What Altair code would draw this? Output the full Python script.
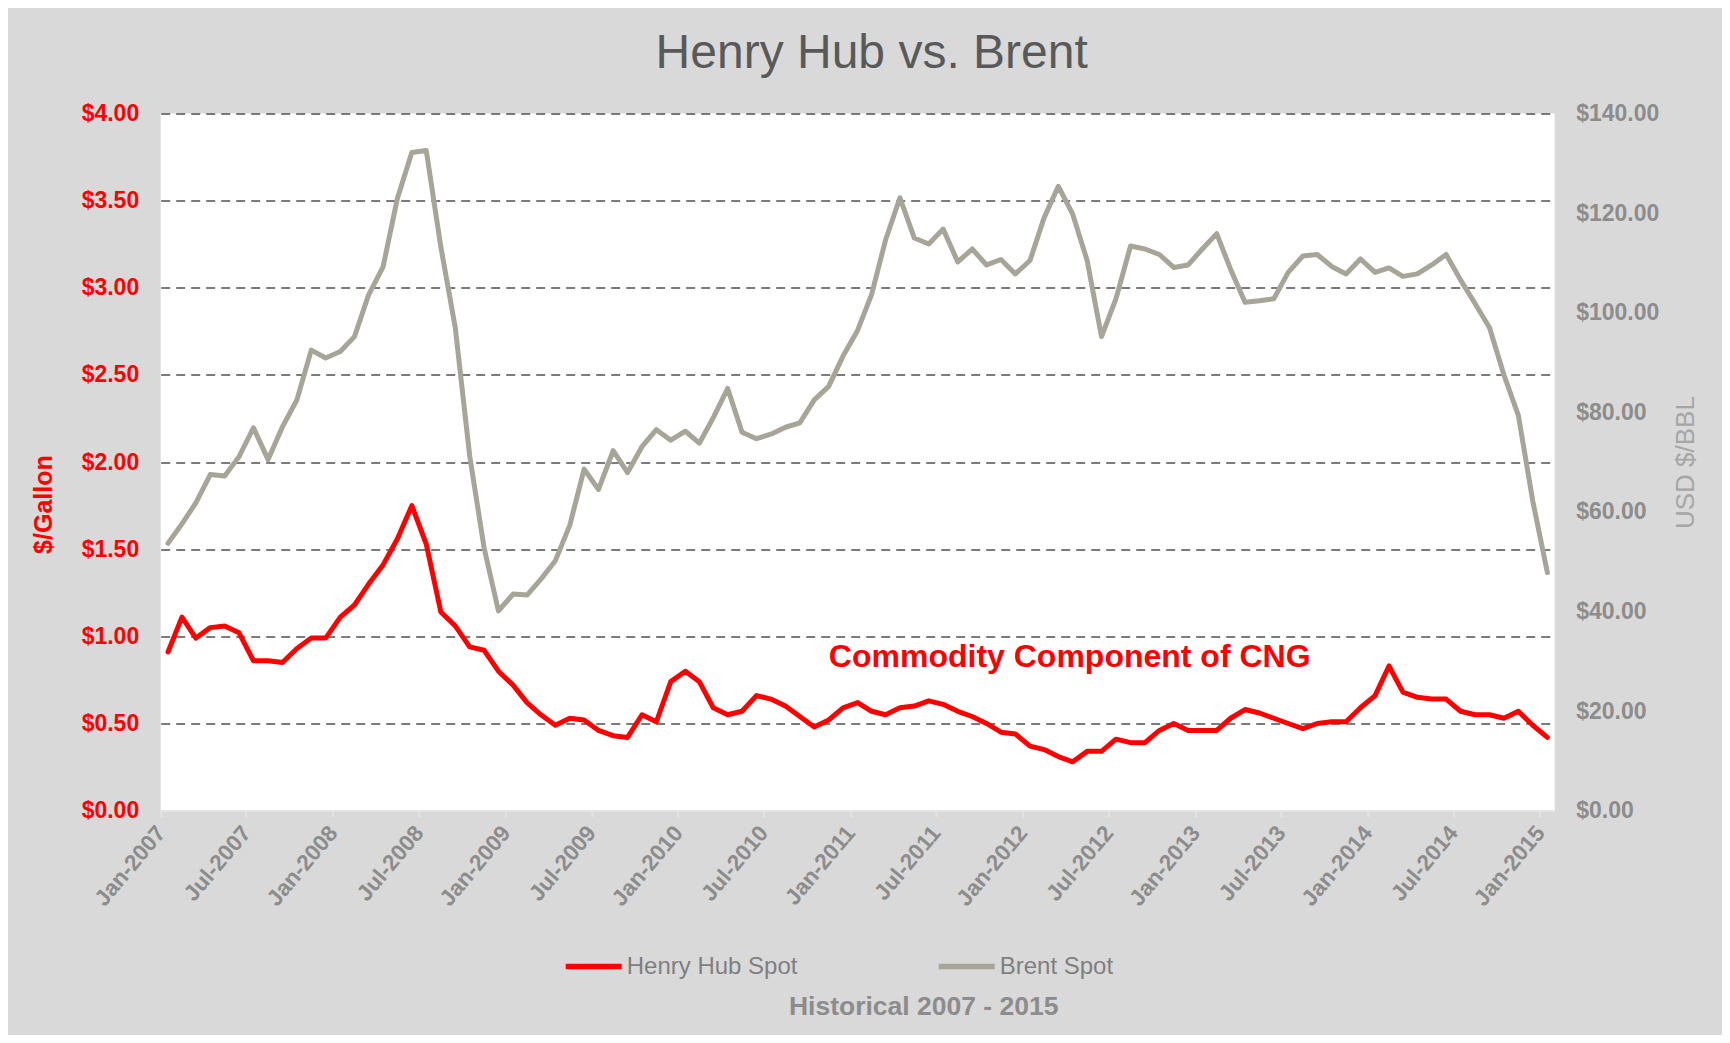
import altair as alt
import pandas as pd

# ---------------- data ----------------
SERIES = ["Henry Hub Spot", "Brent Spot"]
COLORS = ["#ff0000", "#a6a597"]

# monthly, Jan-2007 .. Jan-2015 (97 months)
henry_hub = [
    0.91, 1.11, 0.99, 1.05, 1.06, 1.02, 0.86, 0.86, 0.85, 0.93, 0.99, 0.99,  # 2007
    1.11, 1.18, 1.30, 1.41, 1.56, 1.75, 1.53, 1.14, 1.06, 0.94, 0.92, 0.80,  # 2008
    0.72, 0.62, 0.55, 0.49, 0.53, 0.52, 0.46, 0.43, 0.42, 0.55, 0.51, 0.74,  # 2009
    0.80, 0.74, 0.59, 0.55, 0.57, 0.66, 0.64, 0.60, 0.54, 0.48, 0.52, 0.59,  # 2010
    0.62, 0.57, 0.55, 0.59, 0.60, 0.63, 0.61, 0.57, 0.54, 0.50, 0.45, 0.44,  # 2011
    0.37, 0.35, 0.31, 0.28, 0.34, 0.34, 0.41, 0.39, 0.39, 0.46, 0.50, 0.46,  # 2012
    0.46, 0.46, 0.53, 0.58, 0.56, 0.53, 0.50, 0.47, 0.50, 0.51, 0.51, 0.59,  # 2013
    0.66, 0.83, 0.68, 0.65, 0.64, 0.64, 0.57, 0.55, 0.55, 0.53, 0.57, 0.49,  # 2014
    0.42,                                                                    # 2015
]
brent = [
    53.7, 57.6, 61.8, 67.5, 67.2, 71.1, 76.9, 70.5, 77.1, 82.5, 92.5, 90.9,        # 2007
    92.2, 95.2, 103.6, 109.2, 123.0, 132.2, 132.6, 113.2, 97.0, 71.3, 52.8, 40.1,  # 2008
    43.5, 43.3, 46.5, 50.2, 57.3, 68.6, 64.5, 72.3, 67.9, 73.1, 76.5, 74.4,        # 2009
    76.2, 73.8, 78.9, 84.8, 76.0, 74.7, 75.6, 77.0, 77.9, 82.5, 85.2, 91.3,        # 2010
    96.5, 103.7, 114.6, 123.1, 115.0, 113.8, 116.8, 110.2, 112.8, 109.6, 110.7, 107.8,  # 2011
    110.5, 119.1, 125.4, 119.8, 110.5, 95.2, 102.8, 113.4, 112.8, 111.7, 109.1, 109.6,  # 2012
    112.9, 115.9, 108.7, 102.1, 102.4, 102.8, 108.1, 111.4, 111.7, 109.3, 107.8, 110.8,  # 2013
    108.1, 109.0, 107.3, 107.8, 109.6, 111.7, 106.6, 101.8, 97.0, 87.5, 79.4, 62.2,     # 2014
    47.8,                                                                                 # 2015
]

TICK_YEARS = list(range(2007, 2016))
TITLE = "Henry Hub vs. Brent"
LEFT_TITLE = "$/Gallon"
RIGHT_TITLE = "USD $/BBL"
NOTE = "Commodity Component of CNG"
SUBTITLE = "Historical 2007 - 2015"

# ---------------- tables ----------------
starts = pd.date_range("2007-01-01", periods=len(henry_hub), freq="MS")
ends = pd.date_range("2007-02-01", periods=len(henry_hub), freq="MS")
mids = (starts + (ends - starts) / 2).strftime("%Y-%m-%dT%H:%M:%S")

df_h = pd.DataFrame({"date": mids, "value": henry_hub, "series": SERIES[0]})
df_b = pd.DataFrame({"date": mids, "value": brent, "series": SERIES[1]})

FONT = "Liberation Sans"
W, H = 1394, 697

tick_values = []
for y in TICK_YEARS:
    tick_values.append(alt.DateTime(year=y, month=1, date=1))
    if y < 2015:
        tick_values.append(alt.DateTime(year=y, month=7, date=1))

x_enc = alt.X(
    "date:T",
    title=None,
    scale=alt.Scale(domain=[alt.DateTime(year=2007, month=1, date=1),
                            alt.DateTime(year=2015, month=2, date=1)]),
    axis=alt.Axis(
        values=tick_values, format="%b-%Y", labelAngle=-50,
        labelAlign="right", labelBaseline="middle",
        labelFont=FONT, labelFontSize=22.5, labelFontWeight="bold",
        labelColor="#8c8c8c", labelPadding=12,
        domainColor="#e4e4e4", domainWidth=2,
        tickColor="#e4e4e4", tickWidth=2, tickSize=6,
        grid=False, labelOverlap=False, labelFlush=False,
    ),
)

color_enc = alt.Color(
    "series:N",
    scale=alt.Scale(domain=SERIES, range=COLORS),
    legend=alt.Legend(
        title=None, orient="none", direction="horizontal",
        legendX=402, legendY=822,
        symbolType="stroke", symbolSize=3136, symbolStrokeWidth=5.5,
        labelFont=FONT, labelFontSize=24, labelColor="#7f7f7f",
        labelOffset=2, labelLimit=0, columnPadding=130, padding=0,
    ),
)

henry_line = alt.Chart(df_h).mark_line(
    strokeWidth=5, strokeJoin="round", strokeCap="round"
).encode(
    x=x_enc,
    y=alt.Y(
        "value:Q", title=None,
        scale=alt.Scale(domain=[0, 4], nice=False),
        axis=alt.Axis(
            orient="left", values=[0, 0.5, 1, 1.5, 2, 2.5, 3, 3.5, 4],
            format="$.2f", labelFont=FONT, labelFontSize=23,
            labelFontWeight="bold", labelColor="#ff0000", labelPadding=22,
            domain=False, ticks=False,
            grid=True, gridColor="#505050", gridDash=[9, 6], gridWidth=1.5,
            gridOpacity={"condition": {"test": "datum.value === 0", "value": 0}, "value": 1},
        ),
    ),
    color=color_enc,
)

brent_line = alt.Chart(df_b).mark_line(
    strokeWidth=5, strokeJoin="round", strokeCap="round"
).encode(
    x=x_enc,
    y=alt.Y(
        "value:Q", title=None,
        scale=alt.Scale(domain=[0, 140], nice=False),
        axis=alt.Axis(
            orient="right", values=[0, 20, 40, 60, 80, 100, 120, 140],
            format="$.2f", labelFont=FONT, labelFontSize=23,
            labelFontWeight="bold", labelColor="#8c8c8c", labelPadding=21,
            domain=False, ticks=False, grid=False,
        ),
    ),
    color=color_enc,
)


def label(text, px, py, size, color, weight="normal", angle=0):
    return alt.Chart(pd.DataFrame({"t": [text]})).mark_text(
        font=FONT, fontSize=size, fontWeight=weight, color=color,
        align="center", baseline="middle", angle=angle,
    ).encode(text="t:N", x=alt.value(px), y=alt.value(py))


title_txt = label(TITLE, 711, -60, 48, "#595959")
left_title = label(LEFT_TITLE, -117, 391, 25, "#ff0000", "bold", 270)
right_title = label(RIGHT_TITLE, 1525, 349, 26, "#a6a6a6", "normal", 270)
note_txt = label(NOTE, 909, 543, 32, "#ff0000", "bold")
sub_txt = label(SUBTITLE, 763, 893, 26.5, "#8c8c8c", "bold")

chart = alt.layer(
    brent_line, henry_line, title_txt, left_title, right_title, note_txt, sub_txt
).resolve_scale(y="independent").properties(
    width=W, height=H,
    autosize=alt.AutoSizeParams(type="none"),
    padding={"left": 152.7, "top": 105.6, "right": 167.3, "bottom": 224.4},
    background="#d9d9d9",
).configure_view(
    fill="white", stroke=None
)

chart.save("out.html", embed_options={"renderer": "svg", "actions": False})
